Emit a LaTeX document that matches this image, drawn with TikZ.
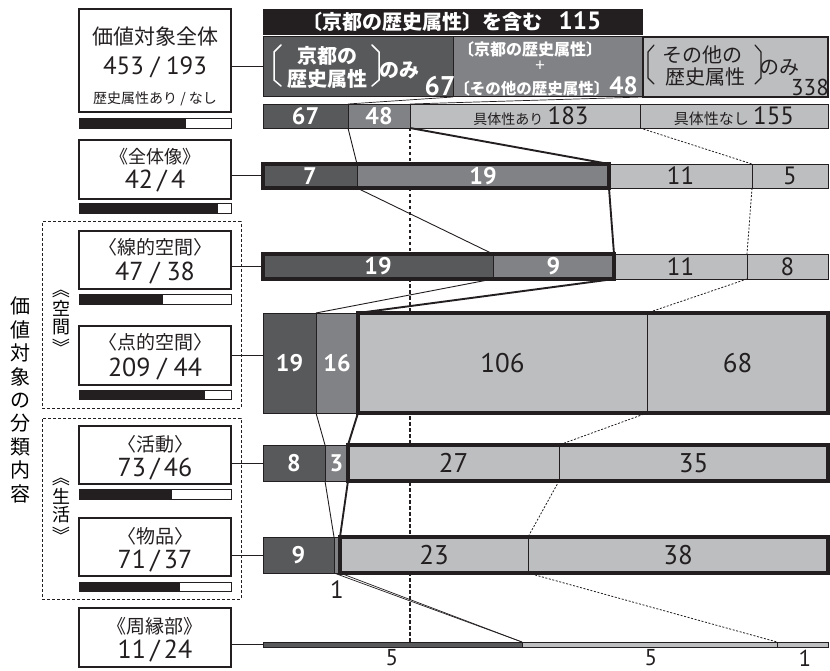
\documentclass[tikz,border=0pt]{standalone}
\usepackage{fontspec}
\setmainfont{Noto Sans CJK JP}
\newfontfamily\nf{PT Sans}
\usepackage{graphicx}
\definecolor{cK}{HTML}{231F20}
\definecolor{cD}{HTML}{58595B}
\definecolor{cM}{HTML}{808285}
\definecolor{cL}{HTML}{BCBEC0}
\newcommand\fs[1]{\fontsize{#1}{#1}\selectfont}
\newcommand\mkbox[7]{\node[#2, anchor=north west, inner sep=0pt, outer sep=0pt, minimum width={(#4-#3)*1pt}, minimum height={(#6-#5)*1pt}] (#1) at (#3,#5) {#7};}
\newcommand\vopen{\rotatebox[origin=c]{-90}{《}}
\newcommand\vclose{\rotatebox[origin=c]{-90}{》}}
\pgfdeclarelayer{bg}
\pgfsetlayers{bg,main}
\begin{document}
\begin{tikzpicture}[x=1pt,y=-1pt,
  segD/.style={fill=cD, draw=cK, line width=0.8pt, text=white, font={\nf\bfseries\fs{24}}},
  segM/.style={fill=cM, draw=cK, line width=0.8pt, text=white, font={\nf\bfseries\fs{24}}},
  segL/.style={fill=cL, draw=cK, line width=0.8pt, text=cK, font={\nf\fs{25}}},
  thickbox/.style={draw=cK, line width=3.5pt},
  thinc/.style={draw=cK, line width=0.9pt},
  thickc/.style={draw=cK, line width=1.9pt},
  dotc/.style={draw=cK, line width=0.8pt, dash pattern=on 2pt off 1.6pt},
  vdash/.style={draw=cK, line width=2.4pt, dash pattern=on 3.5pt off 2.5pt},
  lbox/.style={draw=cK, line width=1.1pt, fill=white},
  pbar/.style={draw=cK, line width=0.8pt, fill=white},
  pfill/.style={fill=cK},
  grp/.style={draw=cK, line width=1pt, dash pattern=on 3pt off 2pt},
  conn/.style={draw=cK, line width=1pt},
  lab/.style={inner sep=0pt, text=cK, font=\fs{19}},
  num/.style={inner sep=0pt, text=cK, font={\nf\fs{26}}},
  wtxt/.style={inner sep=0pt, text=white, font={\bfseries\fs{20}}},
  brk/.style={line width=1.5pt, line cap=round, line join=round}
]
\useasboundingbox (0,0) rectangle (830,671);

% ---------- header ----------
\mkbox{hb0}{fill=cK}{263}{643}{9}{35}{}
\mkbox{hb1}{fill=cD, draw=cK, line width=1pt}{263}{453}{37}{97}{}
\mkbox{hb2}{fill=cM, draw=cK, line width=1pt}{453}{643}{37}{97}{}
\mkbox{hb3}{fill=cL, draw=cK, line width=1.4pt}{643}{828}{37}{97}{}
\node[wtxt] (ht0) at (452,22) {〔京都の歴史属性〕を含む\hspace{16pt}{\nf\fs{25}115}};
% box 1
\node[wtxt] (h1a) at (327,56) {京都の};
\node[wtxt] (h1b) at (327,79) {歴史属性};
\node[wtxt] (h1c) at (399,70) {のみ};
\node[wtxt, font={\nf\bfseries\fs{27}}] (h1d) at (440,86) {67};
\draw[brk, white] (281,45) -- (274,52) -- (274,80) -- (281,86);
\draw[brk, white] (372,45) -- (379,52) -- (379,80) -- (372,86);
% box 2
\node[wtxt, font={\bfseries\fs{16}}] (h2a) at (530,49) {〔京都の歴史属性〕};
\node[wtxt, font={\fs{17}}] (h2b) at (540,66) {+};
\node[wtxt, font={\bfseries\fs{15.5}}] (h2c) at (546,86) {〔その他の歴史属性〕{\nf\fs{25}48}};
% box 3
\node[lab, font=\fs{20}] (h3a) at (702,55) {その他の};
\node[lab, font=\fs{20}] (h3b) at (705,77) {歴史属性};
\node[lab, font=\fs{20}] (h3c) at (779,68) {のみ};
\node[num, font={\nf\fs{23}}] (h3d) at (810,87) {338};
\draw[brk, cK, line width=1.2pt] (654,45) -- (648,52) -- (648,78) -- (654,84);
\draw[brk, cK, line width=1.2pt] (755,45) -- (761,52) -- (761,78) -- (755,84);

% ---------- bars ----------
\mkbox{r0a}{segD}{263}{348}{104}{128}{67}
\mkbox{r0b}{segM}{348}{410}{104}{128}{48}
\mkbox{r0c}{segL}{410}{640}{104}{128}{\hspace{12pt}{\rmfamily\fs{14}具体性あり}\,183}
\mkbox{r0d}{segL}{640}{828}{104}{128}{{\rmfamily\fs{15}具体性なし}\,155}

\mkbox{r1a}{segD}{263}{357}{164}{188}{7}
\mkbox{r1b}{segM}{357}{609}{164}{188}{19}
\mkbox{r1c}{segL}{609}{752}{164}{188}{11}
\mkbox{r1d}{segL}{752}{828}{164}{188}{5}
\draw[thickbox] (r1a.north west) rectangle (r1b.south east);

\mkbox{r2a}{segD}{263}{493}{254}{279}{19}
\mkbox{r2b}{segM}{493}{614}{254}{279}{9}
\mkbox{r2c}{segL}{614}{747}{254}{279}{11}
\mkbox{r2d}{segL}{747}{828}{254}{279}{8}
\draw[thickbox] (r2a.north west) rectangle (r2b.south east);

\mkbox{r3a}{segD}{263}{316}{313}{413}{19}
\mkbox{r3b}{segM}{316}{358}{313}{413}{16}
\mkbox{r3c}{segL, font={\nf\fs{27}}}{358}{647}{313}{413}{106}
\mkbox{r3d}{segL, font={\nf\fs{27}}}{647}{828}{313}{413}{68}
\draw[thickbox] (r3c.north west) rectangle (r3d.south east);

\mkbox{r4a}{segD}{263}{325}{445}{481}{8}
\mkbox{r4b}{segM}{325}{348}{445}{481}{3}
\mkbox{r4c}{segL, font={\nf\fs{27}}}{348}{559}{445}{481}{27}
\mkbox{r4d}{segL, font={\nf\fs{27}}}{559}{828}{445}{481}{35}
\draw[thickbox] (r4c.north west) rectangle (r4d.south east);

\mkbox{r5a}{segD}{263}{334}{537}{573}{9}
\mkbox{r5b}{segM}{334}{340}{537}{573}{}
\mkbox{r5c}{segL, font={\nf\fs{27}}}{340}{528}{537}{573}{23}
\mkbox{r5d}{segL, font={\nf\fs{27}}}{528}{828}{537}{573}{38}
\draw[thickbox] (r5c.north west) rectangle (r5d.south east);
\node[num, font={\nf\fs{25}}] (l5) at (337,590) {1};

\mkbox{r6a}{segD}{263}{522}{642}{647}{}
\mkbox{r6b}{segL}{522}{777}{642}{647}{}
\mkbox{r6c}{segL}{777}{828}{642}{647}{}
\node[num, font={\nf\fs{23}}] (l6a) at (392,658) {5};
\node[num, font={\nf\fs{23}}] (l6b) at (651,658) {5};
\node[num, font={\nf\fs{23}}] (l6c) at (805,658) {1};

% ---------- vertical dashed line ----------
\begin{pgfonlayer}{bg}
\draw[vdash] (r0b.south east) -- (r0b.south east |- r6a.north);
\end{pgfonlayer}

% ---------- funnel connectors ----------
\draw[thinc, line width=0.7pt] (hb1.south east) -- (r0a.north east);
\draw[thinc, line width=0.7pt] (hb2.south east) -- (r0b.north east);

\draw[thinc] (r0a.south east) -- (r1a.north east);
\draw[thickc] (r0b.south east) -- (r1b.north east);
\draw[dotc] (r0c.south east) -- (r1c.north east);

\draw[thinc] (r1a.south east) -- (r2a.north east);
\draw[thickc] (r1b.south east) -- (r2b.north east);
\draw[dotc] (r1c.south east) -- (r2c.north east);

\draw[thinc] (r2a.south east) -- (r3a.north east);
\draw[thickc] (r2b.south east) -- (r3b.north east);
\draw[dotc] (r2c.south east) -- (r3c.north east);

\draw[thinc] (r3a.south east) -- (r4a.north east);
\draw[thickc] (r3b.south east) -- (r4b.north east);
\draw[dotc] (r3c.south east) -- (r4c.north east);

\draw[thinc] (r4a.south east) -- (r5a.north east);
\draw[thickc] (r4b.south east) -- (r5b.north east);
\draw[dotc] (r4c.south east) -- (r5c.north east);

\draw[thinc, line width=0.7pt] (r5a.south east) -- (r6a.north east);
\draw[thinc, line width=0.7pt] (r5b.south east) -- (r6a.north east);
\draw[dotc] (r5c.south east) -- (r6b.north east);

% ---------- left side ----------
\mkbox{G1}{grp}{42}{241}{222}{408}{}
\mkbox{G2}{grp}{42}{241}{418}{599}{}

\mkbox{B0}{lbox, line width=2.5pt}{79}{231}{9}{112}{}
\node[lab, font=\fs{21}] (t0a) at (155,37) {価値対象全体};
\node[num, font={\nf\fs{25}}] (t0b) at (155,67) {453 / 193};
\node[lab, font=\fs{14}] (t0c) at (155,99) {歴史属性あり / なし};
\mkbox{P0}{pbar}{79}{231}{118}{128}{}
\mkbox{P0f}{pfill}{79}{186}{118}{128}{}

\mkbox{B1}{lbox}{79}{231}{140}{199}{}
\node[lab, font=\fs{18}] (t1a) at (155,157) {《全体像》};
\node[num] (t1b) at (155,181) {42\,/\,4};
\mkbox{P1}{pbar}{79}{231}{203}{213}{}
\mkbox{P1f}{pfill}{79}{218}{203}{213}{}

\mkbox{B2}{lbox}{79}{231}{231}{289}{}
\node[lab] (t2a) at (155,247) {〈線的空間〉};
\node[num] (t2b) at (155,273) {47 / 38};
\mkbox{P2}{pbar}{79}{231}{294}{304}{}
\mkbox{P2f}{pfill}{79}{163}{294}{304}{}

\mkbox{B3}{lbox}{79}{231}{326}{385}{}
\node[lab] (t3a) at (155,342) {〈点的空間〉};
\node[num] (t3b) at (155,369) {209 / 44};
\mkbox{P3}{pbar}{79}{231}{390}{399}{}
\mkbox{P3f}{pfill}{79}{205}{390}{399}{}

\mkbox{B4}{lbox}{79}{231}{426}{484}{}
\node[lab] (t4a) at (155,444) {〈活動〉};
\node[num] (t4b) at (155,469) {73\,/\,46};
\mkbox{P4}{pbar}{79}{231}{489}{499}{}
\mkbox{P4f}{pfill}{79}{172}{489}{499}{}

\mkbox{B5}{lbox}{79}{231}{518}{576}{}
\node[lab] (t5a) at (155,536) {〈物品〉};
\node[num] (t5b) at (155,561) {71\,/\,37};
\mkbox{P5}{pbar}{79}{231}{582}{591}{}
\mkbox{P5f}{pfill}{79}{180}{582}{591}{}

\mkbox{B6}{lbox}{79}{231}{608}{667}{}
\node[lab] (t6a) at (155,626) {《周縁部》};
\node[num] (t6b) at (155,651) {11\,/\,24};

% connectors from boxes to bars
\draw[conn] (B0.east |- hb1.west) -- (hb1.west);
\draw[conn] (B1.east |- r1a.west) -- (r1a.west);
\draw[conn] (B2.east |- r2a.west) -- (r2a.west);
\draw[conn] (B3.east) -- (B3.east -| r3a.west);
\draw[conn] (B4.east |- r4a.west) -- (r4a.west);
\draw[conn] (B5.east |- r5a.west) -- (r5a.west);
\draw[conn] (B6.east |- r6a.west) -- (r6a.west);

% vertical labels
\node[inner sep=0pt, align=center, font={\fontsize{20}{23.4}\selectfont}] (V0) at (20,400) {価\\値\\対\\象\\の\\分\\類\\内\\容};
\node[inner sep=0pt, align=center, font={\fontsize{18}{18}\selectfont}] (V1) at (61,318) {\vopen\\[2pt]空\\間\\[2pt]\vclose};
\node[inner sep=0pt, align=center, font={\fontsize{18}{18}\selectfont}] (V2) at (61,506) {\vopen\\[2pt]生\\活\\[2pt]\vclose};
\end{tikzpicture}
\end{document}
